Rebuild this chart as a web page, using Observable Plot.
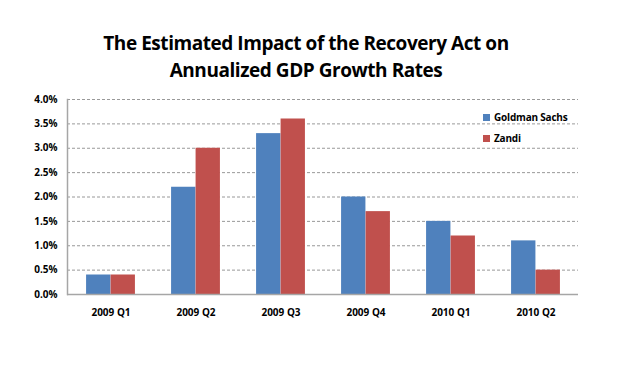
<!DOCTYPE html>
<html><head><meta charset="utf-8">
<script src="https://cdn.jsdelivr.net/npm/d3@7"></script>
<script src="https://cdn.jsdelivr.net/npm/@observablehq/plot@0.6"></script>
<style>
body{margin:0;background:#fff;}
#wrap{position:relative;width:635px;height:368px;font-family:"Open Sans",sans-serif;color:#000;}
#title{position:absolute;left:0;top:30px;width:612px;text-align:center;font-weight:bold;font-size:19px;line-height:27px;letter-spacing:-0.45px;}
.leg{position:absolute;left:483px;font-size:10px;font-weight:bold;letter-spacing:-0.2px;line-height:12px;white-space:nowrap;}
.leg span{display:inline-block;width:7px;height:7px;margin-right:4px;vertical-align:0px;}
</style>
</head><body>
<div id="wrap">
<div id="title">The Estimated Impact of the Recovery Act on<br>Annualized GDP Growth Rates</div>
<div id="chart"></div>
<div id="legend"></div>
</div>
<script>
const quarters = ["2009 Q1", "2009 Q2", "2009 Q3", "2009 Q4", "2010 Q1", "2010 Q2"];
const goldman = [0.4, 2.2, 3.3, 2.0, 1.5, 1.1];
const zandi = [0.4, 3.0, 3.6, 1.7, 1.2, 0.5];
const seriesNames = ["Goldman Sachs", "Zandi"];
const seriesColors = ["#4F81BD", "#C0504D"];
const yTicks = [0, 0.5, 1.0, 1.5, 2.0, 2.5, 3.0, 3.5, 4.0];

const W = 635, H = 368, mL = 67, mR = 57, mT = 99, mB = 74;
const bw = (W - mL - mR) / quarters.length;
const barW = 24.5;

const rows = [];
quarters.forEach((q, i) => {
  rows.push({quarter: q, series: seriesNames[0], value: goldman[i]});
  rows.push({quarter: q, series: seriesNames[1], value: zandi[i]});
});

const chart = Plot.plot({
  width: W, height: H,
  marginLeft: mL, marginRight: mR, marginTop: mT, marginBottom: mB,
  style: {fontFamily: "Open Sans, sans-serif", fontSize: "10px", fontWeight: "bold", color: "#000", background: "transparent"},
  x: {domain: quarters, padding: 0, label: null, tickSize: 0, tickPadding: 14},
  y: {domain: [0, 4], ticks: yTicks, tickFormat: d => d.toFixed(1) + "%", label: null, tickSize: 0, tickPadding: 10},
  color: {domain: seriesNames, range: seriesColors},
  marks: [
    Plot.ruleY(yTicks.filter(d => d > 0), {stroke: "#7f7f7f", strokeWidth: 0.8, strokeDasharray: "3,2"}),
    Plot.barY(rows.filter(d => d.series === seriesNames[0]), {x: "quarter", y: "value", fill: "series", insetLeft: bw / 2 - barW, insetRight: bw / 2}),
    Plot.barY(rows.filter(d => d.series === seriesNames[1]), {x: "quarter", y: "value", fill: "series", insetLeft: bw / 2, insetRight: bw / 2 - barW}),
    Plot.ruleY([0], {stroke: "#a6a6a6", strokeWidth: 1.5}),
    Plot.frame({anchor: "left", stroke: "#a6a6a6", strokeWidth: 1.5})
  ]
});
document.getElementById("chart").appendChild(chart);

const leg = document.getElementById("legend");
seriesNames.forEach((s, i) => {
  const d = document.createElement("div");
  d.className = "leg";
  d.style.top = (111 + i * 21) + "px";
  d.innerHTML = `<span style="background:${seriesColors[i]}"></span>${s}`;
  leg.appendChild(d);
});
</script>
</body></html>
